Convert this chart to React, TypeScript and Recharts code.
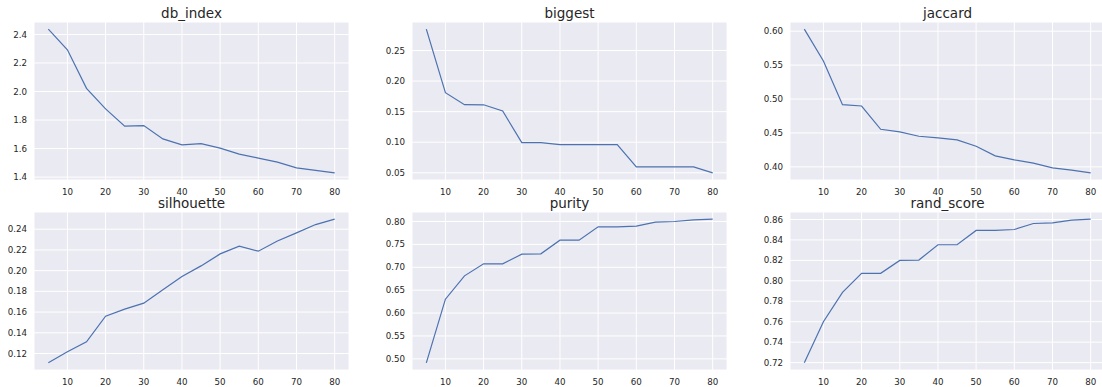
import { LineChart, Line, XAxis, YAxis, CartesianGrid } from "recharts";

// number of clusters on the x axis
const clusters = [5, 10, 15, 20, 25, 30, 35, 40, 45, 50, 55, 60, 65, 70, 75, 80];
const xTicks = [10, 20, 30, 40, 50, 60, 70, 80];

const dbIndex = [2.437, 2.293, 2.022, 1.878, 1.757, 1.761, 1.668, 1.626, 1.635, 1.603, 1.561, 1.533, 1.505, 1.465, 1.447, 1.43];
const biggest = [0.2848, 0.181, 0.1614, 0.1612, 0.151, 0.0995, 0.0995, 0.096, 0.096, 0.096, 0.096, 0.0598, 0.0598, 0.0598, 0.0598, 0.05];
const jaccard = [0.603, 0.556, 0.4917, 0.4897, 0.4554, 0.4515, 0.4451, 0.4426, 0.4397, 0.4304, 0.4162, 0.4103, 0.4054, 0.3985, 0.3951, 0.3912];
const silhouette = [0.111, 0.1216, 0.1313, 0.156, 0.1628, 0.1686, 0.1815, 0.1943, 0.2046, 0.2162, 0.2236, 0.2188, 0.2287, 0.2365, 0.2445, 0.2497];
const purity = [0.4913, 0.6303, 0.6813, 0.7075, 0.7075, 0.7286, 0.7294, 0.7592, 0.7592, 0.7883, 0.7883, 0.7898, 0.7985, 0.8, 0.8036, 0.8051];
const randScore = [0.7198, 0.76, 0.7887, 0.8073, 0.8073, 0.82, 0.8203, 0.8353, 0.8353, 0.8493, 0.8493, 0.8502, 0.8561, 0.8567, 0.8593, 0.8603];

const dbTicks = [1.4, 1.6, 1.8, 2.0, 2.2, 2.4];
const biggestTicks = [0.05, 0.1, 0.15, 0.2, 0.25];
const jaccardTicks = [0.4, 0.45, 0.5, 0.55, 0.6];
const silhouetteTicks = [0.12, 0.14, 0.16, 0.18, 0.2, 0.22, 0.24];
const purityTicks = [0.5, 0.55, 0.6, 0.65, 0.7, 0.75, 0.8];
const randTicks = [0.72, 0.74, 0.76, 0.78, 0.8, 0.82, 0.84, 0.86];

const FONT = "'DejaVu Sans', sans-serif";
const TEXT = "#262626";
const PLOT_W = 315;
const PLOT_H = 158;
const AXIS_W = 50;
const AXIS_H = 25;

// matplotlib style 5% margins
const pad = (vals: number[]): [number, number] => {
  const lo = Math.min(...vals);
  const hi = Math.max(...vals);
  const m = (hi - lo) * 0.05;
  return [lo - m, hi + m];
};

function Panel({ title, values, ticks, digits, left, top }: {
  title: string; values: number[]; ticks: number[]; digits: number; left: number; top: number;
}) {
  const data = clusters.map((k, i) => ({ k, v: values[i] }));
  return (
    <>
      <div style={{ position: "absolute", left, top: top - 15.5, width: PLOT_W, textAlign: "center", fontFamily: FONT, fontSize: 13.5, color: TEXT, lineHeight: "12px", whiteSpace: "nowrap" }}>
        {title}
      </div>
      <div style={{ position: "absolute", left: left - AXIS_W, top }}>
        <LineChart width={AXIS_W + PLOT_W} height={PLOT_H + AXIS_H} data={data} margin={{ top: 0, right: 0, bottom: 0, left: 0 }}>
          <CartesianGrid fill="#EAEAF2" fillOpacity={1} stroke="#ffffff" strokeWidth={1} />
          <XAxis dataKey="k" type="number" domain={[1.25, 83.75]} ticks={xTicks} height={AXIS_H} axisLine={false} tickLine={false} tickSize={0} tickMargin={8.5} tick={{ fill: TEXT, fontSize: 8.7, fontFamily: FONT }} interval={0} />
          <YAxis type="number" domain={pad(values)} ticks={ticks} width={AXIS_W} axisLine={false} tickLine={false} tickSize={0} tickMargin={7} tick={{ fill: TEXT, fontSize: 8.7, fontFamily: FONT }} tickFormatter={(v: number) => v.toFixed(digits)} interval={0} />
          <Line dataKey="v" type="linear" stroke="#4C72B0" strokeWidth={1.2} dot={false} isAnimationActive={false} />
        </LineChart>
      </div>
    </>
  );
}

export default function App() {
  return (
    <div style={{ position: "absolute", left: 0, top: 0, width: 1102, height: 387, overflow: "hidden", background: "#fff" }}>
      <Panel title="db_index" values={dbIndex} ticks={dbTicks} digits={1} left={34} top={22} />
      <Panel title="biggest" values={biggest} ticks={biggestTicks} digits={2} left={412} top={22} />
      <Panel title="jaccard" values={jaccard} ticks={jaccardTicks} digits={2} left={790} top={22} />
      <Panel title="silhouette" values={silhouette} ticks={silhouetteTicks} digits={2} left={34} top={212} />
      <Panel title="purity" values={purity} ticks={purityTicks} digits={2} left={412} top={212} />
      <Panel title="rand_score" values={randScore} ticks={randTicks} digits={2} left={790} top={212} />
    </div>
  );
}
